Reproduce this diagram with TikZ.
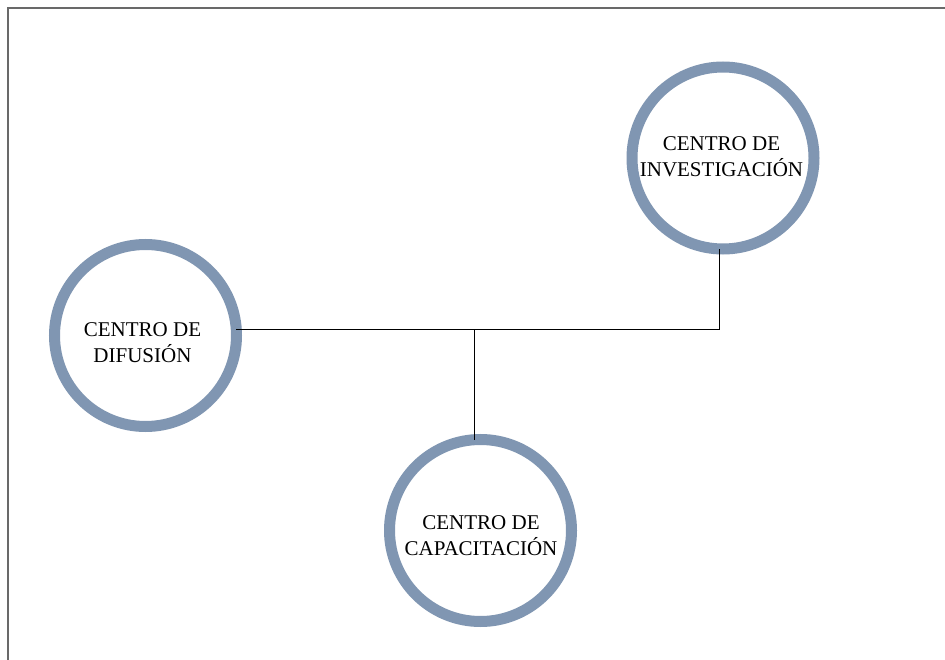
\documentclass[tikz,border=0pt]{standalone}
\usepackage{fontspec}
\setmainfont{Liberation Serif}
\definecolor{ringblue}{RGB}{128,150,178}
\definecolor{framegray}{RGB}{105,105,105}
\tikzset{
  ring/.style={circle, draw=ringblue, line width=11pt, minimum size=182pt, inner sep=0pt, outer sep=0pt},
  lbl/.style={align=center, inner sep=0pt, font=\fontsize{21}{25.5}\selectfont},
  conn/.style={draw=black, line width=1pt},
  frame/.style={draw=framegray, line width=2pt}
}
\begin{document}
\begin{tikzpicture}[x=1pt,y=-1pt]
\useasboundingbox (0,0) rectangle (945,660);
\fill[white] (0,0) rectangle (945,660);
\draw[frame] (7.5,660) -- (7.5,8.5) -- (945,8.5);

\node[ring] (dif) at (145.5,335.5) {};
\node[ring] (inv) at (723,158) {};
\node[ring] (cap) at (480.5,530.5) {};

\node[lbl] (difT) at (142.5,342.5) {CENTRO DE\\DIFUSIÓN};
\node[lbl] (invT) at (721.5,156.5) {CENTRO DE\\INVESTIGACIÓN};
\node[lbl] (capT) at (481,535.5) {CENTRO DE\\CAPACITACIÓN};

\draw[conn] (dif.4) -| (inv.268);
\draw[conn] (cap.94) -- (cap.94 |- dif.4);
\end{tikzpicture}
\end{document}
